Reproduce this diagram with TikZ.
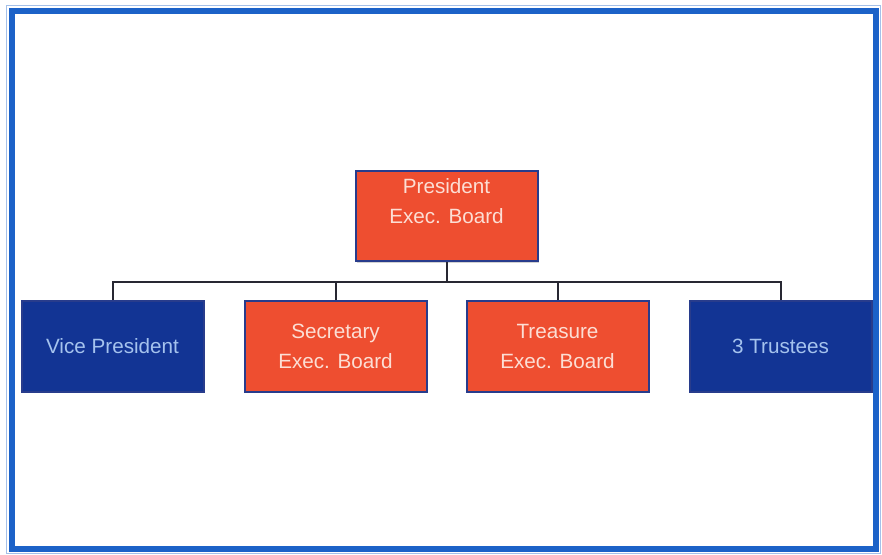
\documentclass[tikz,border=0pt]{standalone}
\usepackage{fontspec}
\setmainfont{Liberation Sans}
\usetikzlibrary{shadows}
\definecolor{frameblue}{RGB}{28,98,200}
\definecolor{boxred}{RGB}{238,78,48}
\definecolor{boxblue}{RGB}{18,52,148}
\definecolor{edgeblue}{RGB}{40,60,140}
\definecolor{redtext}{RGB}{252,222,212}
\definecolor{bluetext}{RGB}{165,195,238}
\definecolor{linegray}{RGB}{40,40,50}
\tikzset{
  x=0.75pt, y=-0.75pt,
  orgbox/.style={draw=edgeblue, line width=1.5pt, minimum width=136.5pt, minimum height=68pt,
    inner sep=0pt, align=center, font=\fontsize{15.5}{22.5}\selectfont,
    drop shadow={shadow xshift=1.2pt, shadow yshift=-1.2pt, opacity=0.35}},
  redbox/.style={orgbox, fill=boxred, text=redtext},
  bluebox/.style={orgbox, fill=boxblue, text=bluetext},
  conn/.style={draw=linegray, line width=1.5pt}
}
\begin{document}
\begin{tikzpicture}
\useasboundingbox (0,0) rectangle (882,555);
\fill[white] (0,0) rectangle (882,555);
\draw[frameblue, line width=3.8pt] (12,11) rectangle (876,549);
\draw[frameblue!40, line width=0.6pt] (6,5) rectangle (880,553);

\node[redbox] (pres) at (446.5,216) {President\\Exec. Board\\ \mbox{}};
\node[bluebox] (vp) at (112.5,346.5) {Vice President};
\node[redbox] (sec) at (335.5,346.5) {Secretary\\Exec. Board};
\node[redbox] (tre) at (557.5,346.5) {Treasure\\Exec. Board};
\node[bluebox] (tru) at (780.5,346.5) {3 Trustees};

\coordinate (bus) at (446.5,282);
\draw[conn] (pres.south) -- (bus);
\draw[conn] (vp.north) |- (bus);
\draw[conn] (tru.north) |- (bus);
\draw[conn] (sec.north) -- (sec.north |- bus);
\draw[conn] (tre.north) -- (tre.north |- bus);
\end{tikzpicture}
\end{document}
